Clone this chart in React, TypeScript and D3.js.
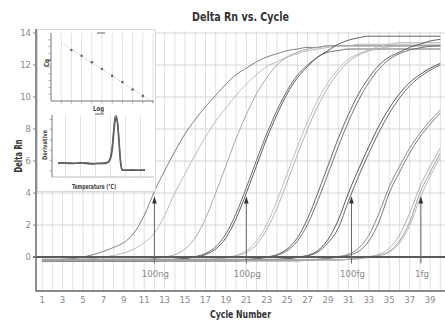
import React from "react";
import * as d3 from "d3";

// cycle axis
const cycles = [
  1, 2, 3, 4, 5, 6, 7, 8, 9, 10, 11, 12, 13, 14, 15, 16, 17, 18, 19, 20,
  21, 22, 23, 24, 25, 26, 27, 28, 29, 30, 31, 32, 33, 34, 35, 36, 37, 38, 39, 40,
];
const xTickLabels = [1, 3, 5, 7, 9, 11, 13, 15, 17, 19, 21, 23, 25, 27, 29, 31, 33, 35, 37, 39];
const yTickLabels = [0, 2, 4, 6, 8, 10, 12, 14];

// delta Rn per cycle, one array per well
const amp100ng = [
  -0.2, -0.2, -0.15, -0.1, 0, 0.15, 0.35, 0.6, 0.9, 1.5,
  2.6, 4.1, 5.4, 6.6, 7.7, 8.6, 9.4, 10.1, 10.8, 11.4,
  11.8, 12.2, 12.5, 12.7, 12.9, 13.0, 13.1, 13.1, 13.2, 13.2,
  13.2, 13.2, 13.2, 13.2, 13.2, 13.2, 13.2, 13.2, 13.2, 13.2,
];
const amp10ng = [
  -0.2, -0.2, -0.2, -0.15, -0.15, -0.1, 0, 0.1, 0.25, 0.5,
  0.9, 1.5, 2.6, 4.0, 5.2, 6.4, 7.5, 8.5, 9.3, 10.1,
  10.8, 11.4, 11.9, 12.2, 12.5, 12.7, 12.9, 13.0, 13.1, 13.2,
  13.2, 13.3, 13.3, 13.3, 13.3, 13.3, 13.3, 13.3, 13.3, 13.3,
];
const amp1ng = [
  -0.2, -0.2, -0.2, -0.15, -0.15, -0.15, -0.15, -0.15, -0.15, -0.15,
  -0.15, -0.1, 0, 0.15, 0.5, 1.2, 2.4, 4.0, 5.7, 7.4,
  8.9, 10.2, 11.2, 12.0, 12.5, 12.8, 13.0, 13.1, 13.2, 13.2,
  13.2, 13.2, 13.2, 13.2, 13.2, 13.2, 13.2, 13.2, 13.2, 13.2,
];
const amp100pgA = [
  -0.2, -0.2, -0.2, -0.2, -0.2, -0.2, -0.2, -0.2, -0.2, -0.2,
  -0.2, -0.2, -0.2, -0.15, -0.1, 0, 0.15, 0.5, 1.2, 2.4,
  4.0, 5.7, 7.4, 8.9, 10.2, 11.2, 11.9, 12.5, 12.9, 13.3,
  13.55, 13.7, 13.8, 13.8, 13.8, 13.8, 13.8, 13.8, 13.8, 13.8,
];
const amp100pgB = [
  -0.25, -0.25, -0.25, -0.25, -0.25, -0.25, -0.25, -0.25, -0.25, -0.25,
  -0.25, -0.25, -0.2, -0.15, -0.08, 0.03, 0.22, 0.64, 1.44, 2.72,
  4.34, 6.04, 7.7, 9.16, 10.4, 11.36, 12.0, 12.5, 12.8, 12.9,
  13.0, 13.0, 13.0, 13.0, 13.0, 13.0, 13.0, 13.0, 13.0, 13.0,
];
const amp10pgA = [
  -0.2, -0.2, -0.2, -0.2, -0.2, -0.2, -0.2, -0.2, -0.2, -0.2,
  -0.2, -0.2, -0.2, -0.2, -0.2, -0.2, -0.15, -0.12, -0.03, 0.1,
  0.4, 0.99, 2.04, 3.52, 5.19, 6.89, 8.45, 9.81, 10.9, 11.76,
  12.35, 12.71, 12.94, 13.15, 13.3, 13.4, 13.4, 13.4, 13.4, 13.4,
];
const amp10pgB = [
  -0.15, -0.15, -0.15, -0.15, -0.15, -0.15, -0.15, -0.15, -0.15, -0.15,
  -0.15, -0.15, -0.15, -0.15, -0.15, -0.15, -0.15, -0.14, -0.06, 0.06,
  0.29, 0.78, 1.72, 3.04, 4.68, 6.38, 8.0, 9.42, 10.6, 11.52,
  12.2, 12.62, 12.88, 13.04, 13.14, 13.2, 13.2, 13.2, 13.2, 13.2,
];
const amp1pgA = [
  -0.2, -0.2, -0.2, -0.2, -0.2, -0.2, -0.2, -0.2, -0.2, -0.2,
  -0.2, -0.2, -0.2, -0.2, -0.2, -0.2, -0.2, -0.2, -0.2, -0.2,
  -0.15, -0.1, 0, 0.15, 0.5, 1.2, 2.4, 4.0, 5.7, 7.4,
  8.9, 10.2, 11.2, 12.0, 12.5, 12.8, 13.1, 13.3, 13.5, 13.6,
];
const amp1pgB = [
  -0.25, -0.25, -0.25, -0.25, -0.25, -0.25, -0.25, -0.25, -0.25, -0.25,
  -0.25, -0.25, -0.25, -0.25, -0.25, -0.25, -0.25, -0.25, -0.25, -0.25,
  -0.2, -0.12, -0.03, 0.1, 0.4, 0.99, 2.04, 3.52, 5.19, 6.89,
  8.45, 9.81, 10.9, 11.76, 12.35, 12.71, 12.94, 13.07, 13.17, 13.2,
];
const amp100fgA = [
  -0.2, -0.2, -0.2, -0.2, -0.2, -0.2, -0.2, -0.2, -0.2, -0.2,
  -0.2, -0.2, -0.2, -0.2, -0.2, -0.2, -0.2, -0.2, -0.2, -0.2,
  -0.2, -0.2, -0.2, -0.15, -0.1, 0, 0.1, 0.4, 1.1, 2.3,
  4.0, 5.5, 6.9, 8.2, 9.3, 10.2, 10.9, 11.4, 11.8, 12.1,
];
const amp100fgB = [
  -0.15, -0.15, -0.15, -0.15, -0.15, -0.15, -0.15, -0.15, -0.15, -0.15,
  -0.15, -0.15, -0.15, -0.15, -0.15, -0.15, -0.15, -0.15, -0.15, -0.15,
  -0.15, -0.15, -0.15, -0.15, -0.12, -0.03, 0.07, 0.31, 0.89, 1.79,
  3.49, 5.05, 6.48, 7.81, 8.97, 9.93, 10.69, 11.25, 11.68, 12.0,
];
const amp10fgA = [
  -0.2, -0.2, -0.2, -0.2, -0.2, -0.2, -0.2, -0.2, -0.2, -0.2,
  -0.2, -0.2, -0.2, -0.2, -0.2, -0.2, -0.2, -0.2, -0.2, -0.2,
  -0.2, -0.2, -0.2, -0.2, -0.2, -0.2, -0.2, -0.15, -0.1, 0,
  0.1, 0.35, 1.0, 2.2, 4.0, 5.3, 6.5, 7.5, 8.3, 9.0,
];
const amp10fgB = [
  -0.25, -0.25, -0.25, -0.25, -0.25, -0.25, -0.25, -0.25, -0.25, -0.25,
  -0.25, -0.25, -0.25, -0.25, -0.25, -0.25, -0.25, -0.25, -0.25, -0.25,
  -0.25, -0.25, -0.25, -0.25, -0.25, -0.25, -0.2, -0.15, -0.08, 0.03,
  0.17, 0.55, 1.36, 2.74, 4.39, 5.66, 6.8, 7.74, 8.51, 9.18,
];
const amp1fgA = [
  -0.15, -0.15, -0.15, -0.15, -0.15, -0.15, -0.15, -0.15, -0.15, -0.15,
  -0.15, -0.15, -0.15, -0.15, -0.15, -0.15, -0.15, -0.15, -0.15, -0.15,
  -0.15, -0.15, -0.15, -0.15, -0.15, -0.15, -0.15, -0.15, -0.15, -0.15,
  -0.15, -0.1, 0, 0.1, 0.35, 1.0, 2.2, 4.0, 5.3, 6.5,
];
const amp1fgB = [
  -0.2, -0.2, -0.2, -0.2, -0.2, -0.2, -0.2, -0.2, -0.2, -0.2,
  -0.2, -0.2, -0.2, -0.2, -0.2, -0.2, -0.2, -0.2, -0.2, -0.2,
  -0.2, -0.2, -0.2, -0.2, -0.2, -0.2, -0.2, -0.2, -0.2, -0.2,
  -0.13, -0.07, 0.03, 0.17, 0.55, 1.36, 2.74, 4.39, 5.66, 6.8,
];
const amp1fgC = [
  -0.2, -0.2, -0.2, -0.2, -0.2, -0.2, -0.2, -0.2, -0.2, -0.2,
  -0.2, -0.2, -0.2, -0.2, -0.2, -0.2, -0.2, -0.2, -0.2, -0.2,
  -0.2, -0.2, -0.2, -0.2, -0.2, -0.2, -0.2, -0.2, -0.2, -0.2,
  -0.15, -0.12, -0.02, 0.08, 0.3, 0.87, 1.96, 3.64, 5.04, 6.26,
];

// threshold markers
const markerLabels = ["100ng", "100pg", "100fg", "1fg"];
const markerCycles = [12.0, 21.0, 31.3, 38.1];

// inset: standard curve
const stdLogQty = [1, 2, 3, 4, 5, 6, 7, 8];
const stdCq = [31.0, 29.3, 27.4, 25.4, 23.4, 21.6, 19.4, 17.5];

// inset: melt curve
const meltTemps = [62.5, 64, 66, 68, 70, 72, 74, 76, 78, 79, 80, 80.6, 81.1, 81.5, 81.9, 82.3, 82.7, 83.1, 83.5, 84, 85, 87, 89, 91.5];
const meltDerivA = [0.22, 0.23, 0.22, 0.22, 0.23, 0.22, 0.21, 0.22, 0.22, 0.23, 0.3, 0.45, 0.72, 0.9, 0.95, 0.88, 0.65, 0.38, 0.18, 0.11, 0.11, 0.11, 0.11, 0.11];
const meltDerivB = [0.23, 0.22, 0.23, 0.22, 0.22, 0.23, 0.22, 0.22, 0.23, 0.24, 0.33, 0.52, 0.8, 0.97, 0.99, 0.9, 0.7, 0.42, 0.2, 0.12, 0.11, 0.12, 0.11, 0.12];

const curves = [
  { values: amp100ng, color: "#707070" },
  { values: amp10ng, color: "#b4b4b4" },
  { values: amp1ng, color: "#a0a0a0" },
  { values: amp100pgA, color: "#4e4e4e" },
  { values: amp100pgB, color: "#5c5c5c" },
  { values: amp10pgA, color: "#b8b8b8" },
  { values: amp10pgB, color: "#aaaaaa" },
  { values: amp1pgA, color: "#555555" },
  { values: amp1pgB, color: "#666666" },
  { values: amp100fgA, color: "#4a4a4a" },
  { values: amp100fgB, color: "#5a5a5a" },
  { values: amp10fgA, color: "#6e6e6e" },
  { values: amp10fgB, color: "#808080" },
  { values: amp1fgA, color: "#9a9a9a" },
  { values: amp1fgB, color: "#a8a8a8" },
  { values: amp1fgC, color: "#b0b0b0" },
];

const NARROW = "'Liberation Sans Narrow', 'Arial Narrow', 'DejaVu Sans Condensed', sans-serif";

const App: React.FC = () => {
  const width = 445;
  const height = 320;

  // main plot scales
  const x = d3.scaleLinear().domain([0.4, 40.5]).range([36, 445.4]);
  const y = d3.scaleLinear().domain([-2.125, 14.125]).range([291, 31]);

  const ampLine = d3
    .line<number>()
    .x((_, i) => x(cycles[i]))
    .y((d) => y(d))
    .curve(d3.curveMonotoneX);

  // standard curve inset
  const sx = d3.scaleLinear().domain([-1, 9.1]).range([51, 154]);
  const sy = d3.scaleLinear().domain([16, 36]).range([101, 33]);
  const meanX = d3.mean(stdLogQty) as number;
  const meanY = d3.mean(stdCq) as number;
  const slope =
    d3.sum(stdLogQty, (v, i) => (v - meanX) * (stdCq[i] - meanY)) /
    d3.sum(stdLogQty, (v) => (v - meanX) ** 2);
  const fitAt = (v: number) => meanY + slope * (v - meanX);

  // melt curve inset
  const mx = d3.scaleLinear().domain([60.5, 94.5]).range([52, 154]);
  const my = d3.scaleLinear().domain([0, 1]).range([177, 115]);
  const meltLine = d3
    .line<number>()
    .x((_, i) => mx(meltTemps[i]))
    .y((d) => my(d))
    .curve(d3.curveMonotoneX);

  return (
    <svg
      width={width}
      height={height}
      style={{ position: "absolute", left: 0, top: 0, background: "#fff" }}
    >
      <defs>
        <clipPath id="plotClip">
          <rect x={36} y={28} width={409} height={263} />
        </clipPath>
      </defs>

      {/* grid */}
      {cycles.map((c) => (
        <line key={"vg" + c} x1={x(c)} x2={x(c)} y1={y(14.125)} y2={y(-2.125)} stroke="#e0e0e0" strokeWidth={1} />
      ))}
      {yTickLabels.filter((v) => v > 0).map((v) => (
        <line key={"hg" + v} x1={36} x2={445} y1={y(v)} y2={y(v)} stroke="#d6d6d6" strokeWidth={1} />
      ))}

      {/* amplification curves */}
      <g clipPath="url(#plotClip)">
        {curves.map((c, i) => (
          <path key={"c" + i} d={ampLine(c.values) || ""} fill="none" stroke={c.color} strokeWidth={0.9} />
        ))}
      </g>

      {/* zero / threshold line */}
      <line x1={33} x2={445} y1={y(0)} y2={y(0)} stroke="#5a5a5a" strokeWidth={2} />

      {/* markers */}
      {markerCycles.map((c, i) => {
        const cx = x(c);
        return (
          <g key={"m" + i}>
            <line x1={cx} x2={cx} y1={y(-0.4)} y2={y(3.45)} stroke="#666" strokeWidth={1} />
            <path
              d={`M${cx},${y(3.8)} L${cx - 2.3},${y(3.35)} L${cx + 2.3},${y(3.35)} Z`}
              fill="#333"
            />
            <text x={cx + 1} y={y(-1) + 3.5} textAnchor="middle" fontFamily={NARROW} fontSize={9.5} fill="#8a8a8a">
              {markerLabels[i]}
            </text>
          </g>
        );
      })}

      {/* axes */}
      <line x1={36} x2={36} y1={29} y2={291.5} stroke="#666" strokeWidth={1.5} />
      <line x1={36} x2={445} y1={291} y2={291} stroke="#666" strokeWidth={1.5} />
      {yTickLabels.map((v) => (
        <g key={"yt" + v}>
          <line x1={33} x2={36} y1={y(v)} y2={y(v)} stroke="#888" />
          <text x={31} y={y(v) + 3.3} textAnchor="end" fontFamily={NARROW} fontSize={9.5} fill="#8a8a8a">
            {v}
          </text>
        </g>
      ))}
      {xTickLabels.map((c) => (
        <text key={"xt" + c} x={x(c)} y={302.5} textAnchor="middle" fontFamily={NARROW} fontSize={9.5} fill="#8a8a8a">
          {c}
        </text>
      ))}

      {/* titles */}
      <text
        x={240.5}
        y={21}
        textAnchor="middle"
        fontFamily={NARROW}
        fontWeight="bold"
        fontSize={12}
        fill="#333"
        textLength={97}
        lengthAdjust="spacingAndGlyphs"
      >
        Delta Rn vs. Cycle
      </text>
      <text
        transform="translate(21.5,156) rotate(-90)"
        textAnchor="middle"
        fontFamily={NARROW}
        fontWeight="bold"
        fontSize={11}
        fill="#333"
        textLength={33}
        lengthAdjust="spacingAndGlyphs"
      >
        Delta Rn
      </text>
      <text
        x={240.5}
        y={317.5}
        textAnchor="middle"
        fontFamily={NARROW}
        fontWeight="bold"
        fontSize={11}
        fill="#333"
        textLength={61}
        lengthAdjust="spacingAndGlyphs"
      >
        Cycle Number
      </text>

      {/* inset panel */}
      <rect x={37.5} y={29.5} width={118} height={162} fill="#fff" stroke="#d0d0d0" strokeWidth={0.8} />

      {/* standard curve */}
      {[0, 1, 2, 3, 4, 5, 6, 7, 8, 9].map((v) => (
        <line key={"sg" + v} x1={sx(v)} x2={sx(v)} y1={33} y2={101} stroke="#e4e4e4" />
      ))}
      <line
        x1={sx(0)}
        x2={sx(9.1)}
        y1={sy(fitAt(0))}
        y2={sy(fitAt(9.1))}
        stroke="#9a9a9a"
        strokeWidth={0.8}
        strokeDasharray="1,2"
      />
      {stdLogQty.map((v, i) => (
        <circle key={"sp" + i} cx={sx(v)} cy={sy(stdCq[i])} r={1.3} fill="#666" />
      ))}
      <line x1={51} x2={51} y1={33} y2={101} stroke="#777" strokeWidth={1} />
      <line x1={51} x2={154} y1={101} y2={101} stroke="#777" strokeWidth={1} />
      {[18, 20, 22, 24, 26, 28, 30, 32, 34].map((v) => (
        <line key={"syt" + v} x1={48.5} x2={51} y1={sy(v)} y2={sy(v)} stroke="#888" strokeWidth={0.7} />
      ))}
      {[0, 1, 2, 3, 4, 5, 6, 7, 8, 9].map((v) => (
        <line key={"sxt" + v} x1={sx(v)} x2={sx(v)} y1={101} y2={103.5} stroke="#888" strokeWidth={0.7} />
      ))}
      <line x1={97} x2={105} y1={33} y2={33} stroke="#777" strokeWidth={1.2} />
      <text
        transform="translate(48.5,63) rotate(-90)"
        textAnchor="middle"
        fontFamily={NARROW}
        fontWeight="bold"
        fontSize={7}
        fill="#444"
        textLength={8}
        lengthAdjust="spacingAndGlyphs"
      >
        Cq
      </text>
      <text
        x={98.5}
        y={110.5}
        textAnchor="middle"
        fontFamily={NARROW}
        fontWeight="bold"
        fontSize={7}
        fill="#444"
        textLength={11}
        lengthAdjust="spacingAndGlyphs"
      >
        Log
      </text>
      <line x1={95} x2={104} y1={114} y2={114} stroke="#777" strokeWidth={1.2} />

      {/* melt curve */}
      {[65, 70, 75, 80, 85, 90].map((v) => (
        <line key={"mg" + v} x1={mx(v)} x2={mx(v)} y1={115} y2={177} stroke="#e4e4e4" />
      ))}
      <line x1={52} x2={52} y1={115} y2={177} stroke="#777" strokeWidth={1} />
      <line x1={52} x2={154} y1={177} y2={177} stroke="#aaa" strokeWidth={0.8} />
      {[0.1, 0.27, 0.43, 0.6, 0.77, 0.93].map((v) => (
        <line key={"myt" + v} x1={49.5} x2={52} y1={my(v)} y2={my(v)} stroke="#888" strokeWidth={0.7} />
      ))}
      <path d={meltLine(meltDerivA) || ""} fill="none" stroke="#555" strokeWidth={1.6} />
      <path d={meltLine(meltDerivB) || ""} fill="none" stroke="#666" strokeWidth={1.2} />
      <text
        transform="translate(46.5,145) rotate(-90)"
        textAnchor="middle"
        fontFamily={NARROW}
        fontWeight="bold"
        fontSize={6.5}
        fill="#444"
        textLength={30}
        lengthAdjust="spacingAndGlyphs"
      >
        Derivative
      </text>
      <text
        x={94}
        y={188.5}
        textAnchor="middle"
        fontFamily={NARROW}
        fontWeight="bold"
        fontSize={7}
        fill="#444"
        textLength={44}
        lengthAdjust="spacingAndGlyphs"
      >
        Temperature (°C)
      </text>
    </svg>
  );
};

export default App;
